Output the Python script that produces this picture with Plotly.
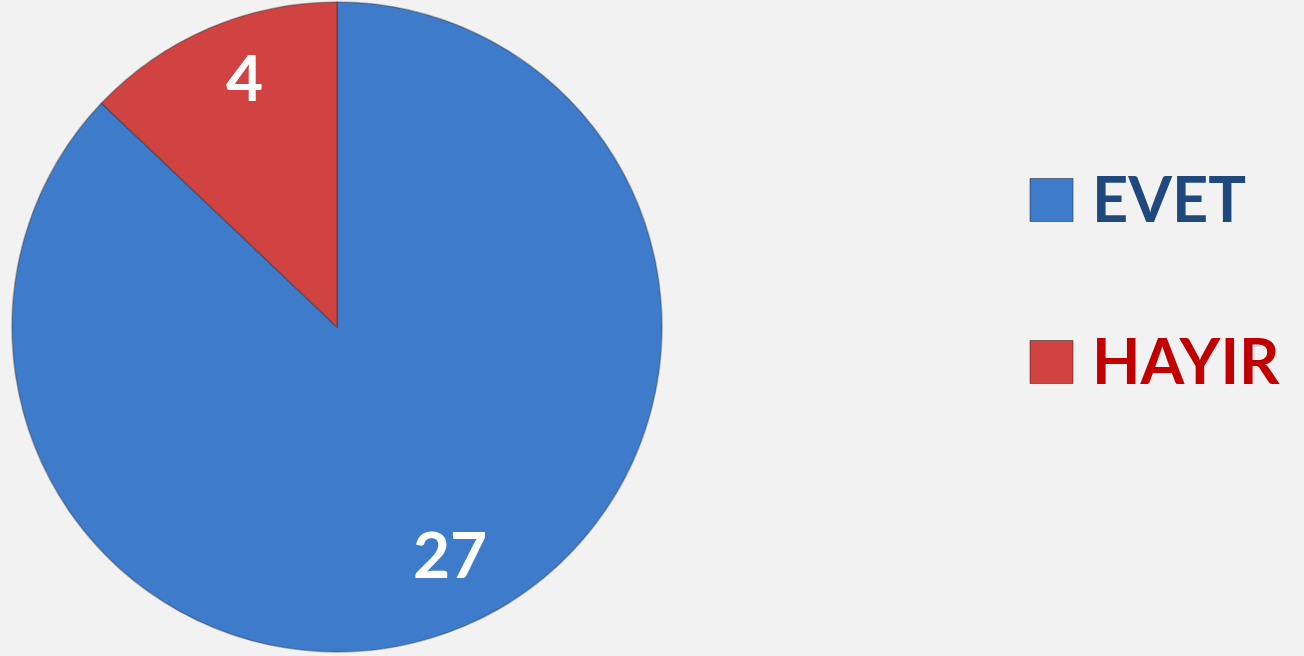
import math
import plotly.graph_objects as go

labels = ["EVET", "HAYIR"]
values = [27, 4]
slice_colors = ["#3F7BCB", "#D14340"]
legend_text_colors = ["#1F497D", "#C00000"]

W, H = 1304, 656
cx, cy, r = 337, 327, 325  # pie geometry in pixels
dom_x = [(cx - r) / W, (cx + r) / W]
dom_y = [(H - cy - r) / H, (H - cy + r) / H]

fig = go.Figure()
fig.add_trace(go.Pie(
    labels=labels,
    values=values,
    sort=False,
    direction="clockwise",
    rotation=0,
    marker=dict(colors=slice_colors, line=dict(color="rgba(40,40,40,0.35)", width=1.5)),
    textinfo="none",
    domain=dict(x=dom_x, y=dom_y),
    showlegend=False,
    hoverinfo="label+value",
))

# value labels placed at each slice's mid-angle (computed from values)
total = sum(values)
cum = 0
for v in values:
    mid = (cum + v / 2) / total * 2 * math.pi
    cum += v
    px = cx + 0.80 * r * math.sin(mid)
    py = cy - 0.80 * r * math.cos(mid)
    fig.add_annotation(xref="paper", yref="paper", x=px / W, y=1 - py / H,
                       xanchor="center", yanchor="middle", showarrow=False,
                       xshift=10, yshift=12,
                       text=f"<b>{v}</b>",
                       font=dict(family="Lato", size=64, color="white"))

# legend drawn from the same labels/colors
leg_y = [1 - 200 / H, 1 - 362 / H]
for lab, col, tcol, y in zip(labels, slice_colors, legend_text_colors, leg_y):
    fig.add_shape(type="rect", xref="paper", yref="paper",
                  x0=1030 / W, x1=1073 / W, y0=y - 21.5 / H, y1=y + 21.5 / H,
                  fillcolor=col, line=dict(color="rgba(30,30,30,0.5)", width=1))
    fig.add_annotation(xref="paper", yref="paper", x=1090 / W, y=y,
                       xanchor="left", yanchor="middle", showarrow=False,
                       yshift=3,
                       text=f"<b>{lab}</b>",
                       font=dict(family="Lato", size=63, color=tcol))

fig.update_layout(
    width=W, height=H,
    margin=dict(l=0, r=0, t=0, b=0),
    paper_bgcolor="#F2F2F2",
    plot_bgcolor="#F2F2F2",
)
fig.write_html("out.html",
               config={"displayModeBar": False},
               post_script="document.body.style.margin='0';document.body.style.overflow='hidden';document.body.style.background='#F2F2F2';")
